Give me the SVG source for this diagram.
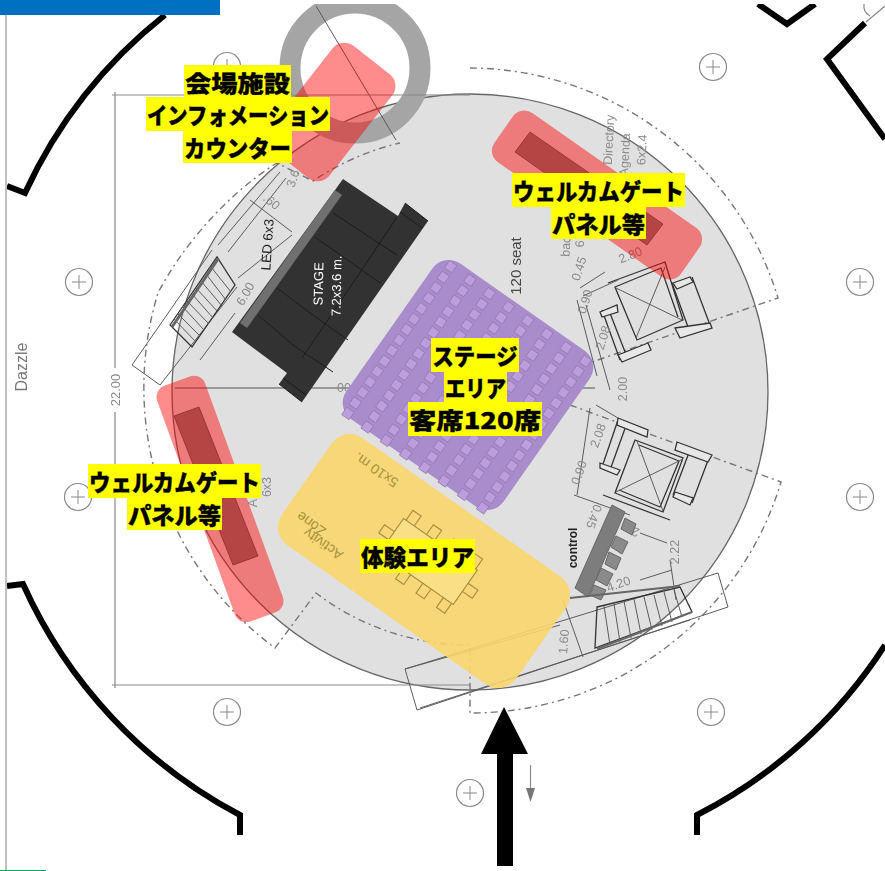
<svg xmlns="http://www.w3.org/2000/svg" width="885" height="871" viewBox="0 0 885 871">
<style>
.wall{fill:none;stroke:#000;stroke-width:6;stroke-linejoin:miter}
.col{fill:#fff;stroke:#8a8a8a;stroke-width:1.2}
.ln{fill:none;stroke:#5c5c5c;stroke-width:1}
.lnd{fill:none;stroke:#333;stroke-width:1.3}
.tab{fill:#e8e8e8;stroke:#333;stroke-width:1.3}
.dsh{fill:none;stroke:#777;stroke-width:1.4;stroke-dasharray:7 4 2 4}
.dim{font-family:"Liberation Sans",Arial,sans-serif;font-size:12.500px;fill:#8a8a8a;text-anchor:middle}
.tag{fill:#ff0000;fill-opacity:.45}
.inner{fill:#b54545;stroke:#8a2e2e;stroke-width:.8}
.lab{fill:#ffff00}
.txt{font-family:"Noto Sans CJK JP","Liberation Sans",sans-serif;font-weight:900;font-size:23px;fill:#000;stroke:#000;stroke-width:.35;text-anchor:middle}
.zone{font-family:"Liberation Sans",Arial,sans-serif;font-size:14px;fill:#a8923f;text-anchor:middle}
.seat{fill:#bc9edd;stroke:#8f74ab;stroke-width:.7}
</style>
<defs>
<filter id="soft" x="-2%" y="-2%" width="104%" height="104%"><feGaussianBlur stdDeviation="0.45"/></filter>
<g id="sc"><rect class="seat" x="-4.500" y="-4.500" width="9" height="9"/><rect class="seat" x="-4.500" y="8.300" width="9" height="9"/><rect class="seat" x="-4.500" y="21.100" width="9" height="9"/><rect class="seat" x="-4.500" y="33.900" width="9" height="9"/><rect class="seat" x="-4.500" y="46.700" width="9" height="9"/><rect class="seat" x="-4.500" y="59.500" width="9" height="9"/><rect class="seat" x="-4.500" y="72.300" width="9" height="9"/><rect class="seat" x="-4.500" y="85.100" width="9" height="9"/><rect class="seat" x="-4.500" y="97.900" width="9" height="9"/><rect class="seat" x="-4.500" y="110.700" width="9" height="9"/><rect class="seat" x="-4.500" y="123.500" width="9" height="9"/><rect class="seat" x="-4.500" y="136.300" width="9" height="9"/><rect class="seat" x="-4.500" y="149.100" width="9" height="9"/><rect class="seat" x="-4.500" y="161.900" width="9" height="9"/><rect class="seat" x="-4.500" y="174.700" width="9" height="9"/></g>
<g id="c"><circle r="13.500" class="col"/><path d="M-7 0H7M0-7V7" stroke="#8a8a8a" stroke-width="1" fill="none"/></g>
</defs>
<rect width="885" height="871" fill="#fff"/>
<g id="plan" filter="url(#soft)">
<circle cx="470" cy="392" r="298" fill="#e0e0e0" stroke="#666" stroke-width="1.300"/>
<circle cx="355" cy="68" r="65" fill="none" stroke="#a5a5a5" stroke-width="21"/>
<path class="ln" d="M316 6 396 140"/>
<path class="wall" d="M7 186 25 193A486 486 0 0 1 165 15"/>
<path class="wall" d="M7 586 23 584A486 486 0 0 0 240 815V835"/>
<path class="wall" d="M697 835V815A486 486 0 0 0 885 645"/>
<path class="wall" d="M865 23 827 59 885 139"/>
<path class="wall" d="M758 4 787 24 815 4"/>
<path d="M866 22 885 6M864 4A12 12 0 0 0 870 16" fill="none" stroke="#888" stroke-width="1.200"/>
<use href="#c" x="227" y="66"/><use href="#c" x="713" y="67"/><use href="#c" x="79" y="282"/><use href="#c" x="860" y="282"/><use href="#c" x="78" y="497"/><use href="#c" x="860" y="497"/><use href="#c" x="227" y="712"/><use href="#c" x="711" y="712"/><use href="#c" x="470" y="793"/>
<path d="M112 95H470M112 685H470M115 92V368M115 412V688" fill="none" stroke="#8a8a8a" stroke-width="1.200"/>
<text class="dim" transform="translate(119.500 390) rotate(-90)" style="font-size:13px">22.00</text>
<text transform="translate(27 367) rotate(-90)" font-family="'Liberation Sans',Arial,sans-serif" font-size="16" fill="#777" text-anchor="middle">Dazzle</text>
<path d="M175 388H595" fill="none" stroke="#808080" stroke-width="1.300"/>
<path class="dsh" d="M470 68A324 324 0 0 1 778 298L592 362"/>
<path class="dsh" d="M570 405 781 482A324 324 0 0 1 470 713V645A254 254 0 0 1 316 593L275 648A324 324 0 0 1 158 293C180 250 225 195 277 163L313 181A262 262 0 0 1 400 143"/>
<path class="ln" d="M405 669 718 573 728 607 417 710ZM132 365 212 250M160 385 237 287M132 365 160 385"/>
<path class="ln" d="M200 360 235 313M238 278 292 235M250 200 292 232M218 245 280 172M228 252 286 178"/>
<path class="lnd" d="M170 325 217 257 235 285 192 347Z"/>
<path class="ln" d="M174 319 196 342M178 314 200 336M183 307 204 330M187 301 209 324M192 294 213 318M196 288 218 312M201 281 222 306M206 274 226 300M211 267 231 292"/>
<path d="M172 327 218 259" fill="none" stroke="#666" stroke-width="3"/>
<path fill="#333" d="M343 179 398 216 405 203 428 221 302 402 279 384 287 373 232 332Z"/>
<path fill="#6f6f6f" d="M335 190 342 195 247 328 240 323Z"/>
<path fill="none" stroke="#1c1c1c" stroke-width="1" d="M258 315 293 345 333 372M277 288 310 313 348 340M315 237 380 283M333 213 397 255M397 217 357 277 302 358M405 203 428 221M400 212 422 228M279 384 302 402M283 378 306 395"/>
<text transform="translate(323 284) rotate(-89)" font-family="'Liberation Sans',Arial,sans-serif" font-size="13" fill="#fff" text-anchor="middle">STAGE</text>
<text transform="translate(341 286) rotate(-89)" font-family="'Liberation Sans',Arial,sans-serif" font-size="13" fill="#fff" text-anchor="middle">7.2x3.6 m.</text>
<text transform="translate(272 245) rotate(-86)" font-family="'Liberation Sans',Arial,sans-serif" font-size="13.500" fill="#222" text-anchor="middle">LED 6x3</text>
<text class="dim" transform="translate(249 296) rotate(-60)">6.00</text>
<text class="dim" transform="translate(269 205) rotate(40)">.60</text>
<text class="dim" transform="translate(297 180) rotate(-70)">3.6</text>
<text transform="translate(521 266) rotate(-90)" font-family="'Liberation Sans',Arial,sans-serif" font-size="15" fill="#444" text-anchor="middle">120 seat</text>
<text class="dim" transform="translate(613 140) rotate(-87)">Directory</text>
<text class="dim" transform="translate(629 155) rotate(-87)">Agenda</text>
<text class="dim" transform="translate(646 150) rotate(-87)">6x2.4</text>
<text class="dim" transform="translate(570 247) rotate(-87)">bac</text>
<text class="dim" transform="translate(584 244) rotate(-87)">6</text>
<g>
<path class="lnd" d="M608 283 665 262 683 320 637 340 615 287 661 268 678 317"/>
<path class="ln" d="M616 288 682 320M665 267 636 338"/>
<path class="lnd" d="M602 310 620 360M608 308 627 357M692 277 710 325M672 283 688 327"/>
<path class="tab" d="M600 312 617 305 618 312 602 317ZM618 355 648 343 651 350 622 362ZM673 283 690 277 693 282 677 289ZM675 328 710 323 712 328 680 338Z"/>
<path class="lnd" d="M635 440 683 458 663 512 615 493ZM603 495 670 520M639 445 679 461 660 507 619 490"/>
<path class="ln" d="M637 441 663 511M683 459 616 492"/>
<path class="lnd" d="M618 420 602 467M627 423 610 470M710 455 692 503M690 450 673 495"/>
<path class="tab" d="M618 418 648 430 647 437 617 425ZM600 463 620 470 617 475 600 468ZM677 442 712 455 708 462 675 450ZM675 492 693 498 690 505 673 497Z"/>
<path class="ln" d="M580 288 605 272M583 296 618 280M577 300 597 376M586 305 610 390M596 405 618 418M590 408 577 495M574 495 630 515M640 533 667 543M670 560 676 600M640 580 672 570"/>
</g>
<text class="dim" transform="translate(627 389) rotate(-90)">2.00</text>
<text class="dim" transform="translate(632 259) rotate(-22)">2.80</text>
<text class="dim" transform="translate(583 270) rotate(-72)">0.45</text>
<text class="dim" transform="translate(589 303) rotate(-72)">0.90</text>
<text class="dim" transform="translate(607 339) rotate(-72)">2.08</text>
<text class="dim" transform="translate(602 437) rotate(-70)">2.08</text>
<text class="dim" transform="translate(583 474) rotate(-70)">0.90</text>
<text class="dim" transform="translate(590 515) rotate(110)">0.45</text>
<text class="dim" transform="translate(637 528) rotate(-160)">2</text>
<text class="dim" transform="translate(620 588) rotate(-20)">4.20</text>
<text class="dim" transform="translate(679 552) rotate(-90)">2.22</text>
<text class="dim" transform="translate(568 642) rotate(-85)">1.60</text>
<text class="dim" transform="translate(271 487) rotate(-90)">6x3</text>
<text class="dim" transform="translate(257 503) rotate(-90)">A</text>
<text x="351" y="392" class="dim" style="text-anchor:end">00</text>
<path fill="#7d7d7d" stroke="#666" d="M612 505 625 512 588 597 575 588Z"/>
<path fill="#8a8a8a" stroke="#666" d="M625 518 636 524 632 535 621 529ZM616 536 628 542 622 554 611 547ZM609 552 621 558 616 570 605 564ZM601 568 613 574 607 586 596 580ZM594 585 606 590 601 600 590 595Z"/>
<text transform="translate(577 548) rotate(-90)" font-family="'Liberation Sans',Arial,sans-serif" font-size="12" font-weight="700" fill="#222" text-anchor="middle">control</text>
<path class="lnd" d="M597 607 680 587 692 612 595 648Z"/>
<path class="ln" d="M604 606 610 645M614 604 620 642M624 601 631 638M634 599 641 634M644 597 652 630M654 595 662 626M664 592 672 622M674 590 682 617"/>
<path d="M597 649 692 612M570 598 680 586" fill="none" stroke="#666" stroke-width="2"/>
<path class="ln" d="M563 600 583 657M405 669 560 625M420 708 690 620"/>
</g>
<g id="zone-activity">
<rect x="-143" y="-65.500" width="286" height="131" rx="22" transform="translate(424 561) rotate(35)" fill="#f9d66c" fill-opacity=".9"/>
<g transform="translate(428.400 561.500) rotate(35)" fill="none" stroke="#a38a3e" stroke-width="1.100">
<rect x="-45" y="-21" width="90" height="42" fill="#fbdf86"/>
<path d="M-42-21v-12h10v12M-17-21v-12h10v12M8-21v-12h10v12M33-21v-12h10v12M-42 21v12h10v-12M-17 21v12h10v-12M8 21v12h10v-12M33 21v12h10v-12M-45-5h-12v10h12M45-5h12v10h-12"/>
</g>
<text class="zone" transform="translate(379 466) rotate(215)">5x10 m.</text>
<text class="zone" transform="translate(326 540) rotate(215)">Activity</text>
<text class="zone" transform="translate(314 520) rotate(215)">Zone</text>
</g>
<g id="zone-stage">
<rect x="-96" y="-95" width="192" height="190" rx="20" transform="translate(468 385) rotate(35)" fill="#a98ccb"/>
<g transform="translate(450.700 266.700) rotate(35)"><use href="#sc"/><use href="#sc" x="23.500"/><use href="#sc" x="47"/><use href="#sc" x="70.500"/><use href="#sc" x="94"/><use href="#sc" x="117.500"/><use href="#sc" x="141"/><use href="#sc" x="164.500"/></g>
</g>
<g id="panel-info">
<rect x="-38" y="-66" width="76" height="132" rx="15" transform="translate(331 112) rotate(38)" class="tag"/>
</g>
<g id="panel-gate-right">
<rect x="-114" y="-30" width="228" height="60" rx="14" transform="translate(597 195) rotate(35)" class="tag"/>
<path class="inner" d="M530 132 515 152 647 245 663 224Z"/>
</g>
<g id="panel-gate-left">
<rect x="-25.500" y="-125.500" width="51" height="251" rx="12" transform="translate(220 499) rotate(-20)" class="tag"/>
<path class="inner" d="M174 416 199 407 258 556 233 565Z"/>
</g>
<g id="label-info">
<rect class="lab" x="184" y="65" width="107" height="32"/><rect class="lab" x="146" y="97" width="184" height="34"/><rect class="lab" x="183" y="131" width="109" height="32"/>
<text class="txt" x="237.500" y="92" textLength="105" lengthAdjust="spacingAndGlyphs">会場施設</text>
<text class="txt" x="238" y="124" textLength="182" lengthAdjust="spacingAndGlyphs">インフォメーション</text>
<text class="txt" x="237.500" y="157" textLength="107" lengthAdjust="spacingAndGlyphs">カウンター</text>
</g>
<g id="label-gate-right">
<rect class="lab" x="512" y="173" width="173" height="34"/><rect class="lab" x="551" y="207" width="95" height="32"/>
<text class="txt" x="598.500" y="200" textLength="171" lengthAdjust="spacingAndGlyphs">ウェルカムゲート</text>
<text class="txt" x="598.500" y="233" textLength="93" lengthAdjust="spacingAndGlyphs">パネル等</text>
</g>
<g id="label-gate-left">
<rect class="lab" x="88" y="464" width="173" height="34"/><rect class="lab" x="127" y="498" width="95" height="32"/>
<text class="txt" x="174.500" y="491" textLength="171" lengthAdjust="spacingAndGlyphs">ウェルカムゲート</text>
<text class="txt" x="174.500" y="524" textLength="93" lengthAdjust="spacingAndGlyphs">パネル等</text>
</g>
<g id="label-stage">
<rect class="lab" x="431" y="338" width="88" height="34"/><rect class="lab" x="444" y="372" width="63" height="31"/><rect class="lab" x="408" y="402" width="134" height="34"/>
<text class="txt" x="475" y="365" textLength="85" lengthAdjust="spacingAndGlyphs">ステージ</text>
<text class="txt" x="475.500" y="397" textLength="61" lengthAdjust="spacingAndGlyphs">エリア</text>
<text class="txt" x="475" y="429" textLength="132" lengthAdjust="spacingAndGlyphs">客席120席</text>
</g>
<g id="label-activity">
<rect class="lab" x="360" y="539" width="115" height="34"/>
<text class="txt" x="417.500" y="566" textLength="113" lengthAdjust="spacingAndGlyphs">体験エリア</text>
</g>
<g id="connectors">
<path d="M504 707 528 754H513V866H497V754H481Z" fill="#000"/>
<path d="M530.500 765V790" stroke="#8a8a8a" stroke-width="1.200"/>
<path d="M526 788 535 788 530.500 802Z" fill="#777"/>
</g>
<rect x="0" y="0" width="885" height="4" fill="#fff"/>
<rect x="0" y="0" width="220" height="15" fill="#0070c0"/>
<rect x="5" y="15" width="2" height="855" fill="#c0c0c0"/>
<rect x="0" y="870" width="46" height="1" fill="#00b050"/>
</svg>
